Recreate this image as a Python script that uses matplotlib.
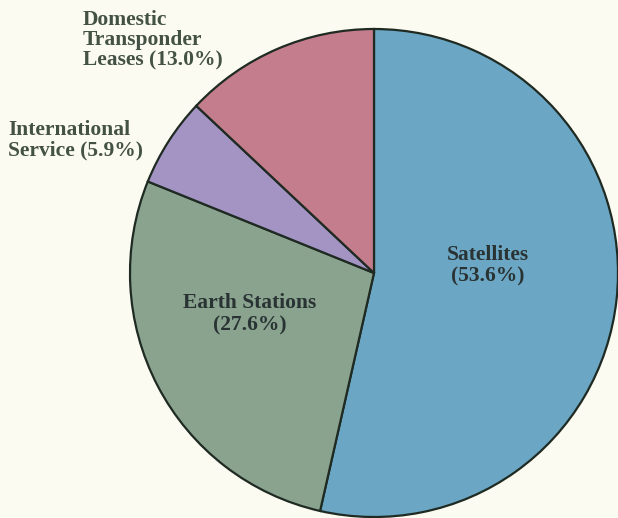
import matplotlib
matplotlib.use("Agg")
import matplotlib.pyplot as plt

# Shares of the satellite communications market (percent)
segments = ["Satellites", "Earth Stations", "International Service", "Domestic Transponder Leases"]
shares = [53.6, 27.6, 5.9, 13.0]
colors = ["#6ba7c4", "#89a38f", "#a394c4", "#c47d8c"]

W, H = 618, 518
fig = plt.figure(figsize=(W / 100, H / 100), dpi=100)
fig.patch.set_facecolor("#fcfbf2")
ax = fig.add_axes([0, 0, 1, 1])
ax.set_facecolor("#fcfbf2")

cx, cy, r = 374, H - 273, 244
ax.pie(shares, colors=colors, startangle=90, counterclock=False,
       center=(cx, cy), radius=r, frame=True,
       wedgeprops=dict(edgecolor="#1f2a22", linewidth=1.6))
ax.set_xlim(0, W)
ax.set_ylim(0, H)
ax.axis("off")

font = dict(family="Liberation Serif", fontweight="bold", fontsize=15.5)
outer_color = "#435243"
inner_color = "#2a3333"

def label(i, text_lines):
    return "\n".join(text_lines[:-1] + [f"{text_lines[-1]}({shares[i]:.1f}%)"])

# Slice labels
ax.text(488, H - 266, label(0, ["Satellites", ""]), ha="center", va="center",
        color=inner_color, linespacing=1.07, **font)
ax.text(250, H - 314, label(1, ["Earth Stations", ""]), ha="center", va="center",
        color=inner_color, linespacing=1.15, **font)
ax.text(8, H - 140, label(2, ["International", "Service "]), ha="left", va="center",
        color=outer_color, linespacing=1.0, **font)
ax.text(83, H - 40, label(3, ["Domestic", "Transponder", "Leases "]), ha="left", va="center",
        color=outer_color, linespacing=1.0, **font)

fig.savefig("out.png", dpi=100, facecolor=fig.get_facecolor())
